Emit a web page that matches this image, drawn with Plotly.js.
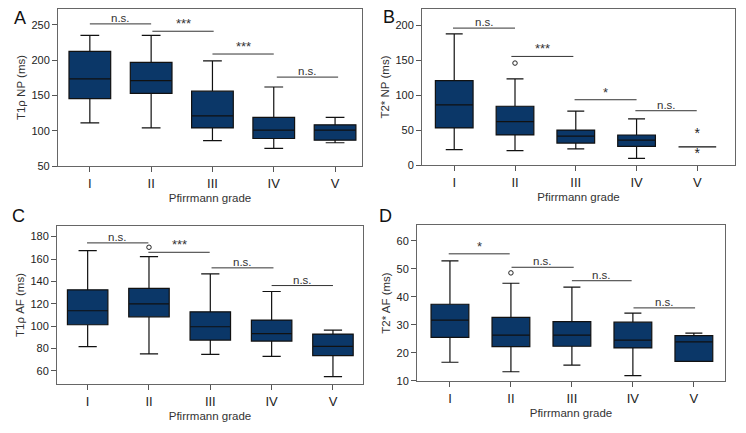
<!DOCTYPE html>
<html>
<head>
<meta charset="utf-8">
<script src="https://cdn.plot.ly/plotly-3.0.1.min.js"></script>
<style>
  html, body { margin: 0; padding: 0; background: #fff; }
  #chart { width: 746px; height: 433px; }
  #chart svg text { font-stretch: condensed; }
</style>
</head>
<body>
<div id="chart"></div>
<script>
"use strict";

/******************************** Data *********************************/

var grades = ['I', 'II', 'III', 'IV', 'V'];

// A: T1rho NP
var aLow = [111, 104, 86, 75, 83];
var aQ1 = [145.5, 153, 104, 89, 86.6];
var aMed = [173.5, 171, 121, 101, 101];
var aQ3 = [212.5, 197, 156, 119, 108.4];
var aHigh = [235, 235, 199, 162, 119];

// B: T2* NP
var bLow = [22, 20.5, 23, 9.5, 26];
var bQ1 = [53, 43, 31.4, 26.7, 26];
var bMed = [86, 62, 41.4, 35.7, 26];
var bQ3 = [120.5, 84, 50, 42.9, 26];
var bHigh = [187.6, 123, 77, 66, 26];
var bOutX = ['II'];
var bOutY = [145.7];
var bStarX = ['V', 'V'];
var bStarY = [43.3, 15.7];

// C: T1rho AF
var cLow = [81.7, 75.2, 74.9, 73, 55];
var cQ1 = [101.3, 108.4, 87.6, 86.7, 73.7];
var cMed = [113.8, 120, 99.5, 93.3, 82];
var cQ3 = [132.5, 133.7, 112.8, 105.5, 93];
var cHigh = [167.5, 162.2, 146.7, 131, 96.5];
var cOutX = ['II'];
var cOutY = [170.5];

// D: T2* AF
var dLow = [16.7, 13.3, 15.7, 11.9, 17];
var dQ1 = [25.6, 22.3, 22.4, 21.8, 17];
var dMed = [31.7, 26.4, 26.4, 24.6, 24];
var dQ3 = [37.4, 32.7, 31.2, 31, 26.2];
var dHigh = [52.9, 44.9, 43.5, 34.2, 27.1];
var dOutX = ['II'];
var dOutY = [48.6];

// significance brackets: [from, to, level, label]
var aSig = [[0, 1, 251.4, 'n.s.'], [1.02, 2.02, 241, '***'], [2, 3, 208.7, '***'], [3.05, 4.05, 176, 'n.s.']];
var bSig = [[-0.02, 1, 195.7, 'n.s.'], [0.94, 1.96, 155.2, '***'], [1.98, 3, 93.3, '*'], [2.98, 3.99, 77.6, 'n.s.']];
var cSig = [[-0.01, 0.99, 174.4, 'n.s.'], [0.99, 1.99, 166, '***'], [2.02, 3.03, 152.1, 'n.s.'], [3, 4, 136.3, 'n.s.']];
var dSig = [[-0.02, 0.98, 55.4, '*'], [1.01, 2.03, 50.6, 'n.s.'], [2, 2.98, 45.8, 'n.s.'], [3.01, 4.02, 36.1, 'n.s.']];

/******************************** Style *********************************/

var FONT = 'Liberation Sans, Arial, sans-serif';
var BOXFILL = '#0b3768';

function boxTrace(low, q1, med, q3, high, ax, w) {
  return {
    type: 'box',
    x: grades,
    lowerfence: low, q1: q1, median: med, q3: q3, upperfence: high,
    fillcolor: BOXFILL,
    line: { color: '#111', width: 1.2 },
    whiskerwidth: 0.45,
    width: w,
    boxpoints: false,
    hoverinfo: 'skip',
    showlegend: false,
    xaxis: 'x' + ax, yaxis: 'y' + ax
  };
}

function outTrace(xs, ys, ax) {
  return {
    type: 'scatter', mode: 'markers', x: xs, y: ys,
    marker: { symbol: 'circle-open', size: 4.5, color: '#222', line: { width: 1 } },
    showlegend: false, hoverinfo: 'skip',
    xaxis: 'x' + ax, yaxis: 'y' + ax
  };
}

var data = [
  boxTrace(aLow, aQ1, aMed, aQ3, aHigh, '', 0.68),
  boxTrace(bLow, bQ1, bMed, bQ3, bHigh, '2', 0.62),
  outTrace(bOutX, bOutY, '2'),
  {
    type: 'scatter', mode: 'text', x: bStarX, y: bStarY, text: ['*', '*'],
    textfont: { family: FONT, size: 14, color: '#222' },
    showlegend: false, hoverinfo: 'skip', xaxis: 'x2', yaxis: 'y2'
  },
  boxTrace(cLow, cQ1, cMed, cQ3, cHigh, '3', 0.66),
  outTrace(cOutX, cOutY, '3'),
  boxTrace(dLow, dQ1, dMed, dQ3, dHigh, '4', 0.62),
  outTrace(dOutX, dOutY, '4')
];

function xAxis(dom, rng, anchor) {
  return {
    domain: dom, range: rng, anchor: anchor,
    type: 'category', categoryorder: 'array', categoryarray: grades,
    showline: true, mirror: true, linecolor: '#666', linewidth: 1,
    ticks: 'outside', ticklen: 5, tickcolor: '#555', showgrid: false, zeroline: false,
    tickfont: { family: FONT, size: 13, color: '#222' },
    title: { text: 'Pfirrmann grade', font: { family: FONT, size: 11.5, color: '#333' }, standoff: 4 }
  };
}

function yAxis(dom, rng, dt, anchor, txt) {
  return {
    domain: dom, range: rng, dtick: dt, anchor: anchor,
    showline: true, mirror: true, linecolor: '#666', linewidth: 1,
    ticks: 'outside', ticklen: 5, tickcolor: '#555', showgrid: false, zeroline: false,
    tickfont: { family: FONT, size: 11, color: '#222' },
    title: { text: txt, font: { family: FONT, size: 11.5, color: '#333' }, standoff: 3 }
  };
}

var shapes = [];
var annotations = [];

function addSig(list, ax) {
  list.forEach(function (s) {
    shapes.push({
      type: 'line', xref: 'x' + ax, yref: 'y' + ax,
      x0: s[0], x1: s[1], y0: s[2], y1: s[2],
      line: { color: '#333', width: 1 }
    });
    annotations.push({
      xref: 'x' + ax, yref: 'y' + ax, x: (s[0] + s[1]) / 2, y: s[2],
      text: s[3], showarrow: false, yanchor: 'bottom', yshift: -2,
      font: { family: FONT, size: s[3] === 'n.s.' ? 11.5 : 13, color: '#333' }
    });
  });
}
addSig(aSig, '');
addSig(bSig, '2');
addSig(cSig, '3');
addSig(dSig, '4');

// panel letters (pixel centres)
[['A', 20, 18], ['B', 389, 17], ['C', 18, 216], ['D', 385, 216]].forEach(function (p) {
  annotations.push({
    xref: 'paper', yref: 'paper', x: p[1] / 746, y: 1 - p[2] / 433, text: p[0], showarrow: false,
    xanchor: 'center', yanchor: 'middle', font: { family: FONT, size: 18, color: '#111' }
  });
});

var layout = {
  width: 746, height: 433,
  margin: { l: 0, r: 0, t: 0, b: 0 },
  paper_bgcolor: '#fff', plot_bgcolor: '#fff',
  font: { family: FONT },
  showlegend: false,
  xaxis: xAxis([0.0777, 0.4853], [-0.52, 4.44], 'y'),
  yaxis: yAxis([0.6166, 0.9792], [50, 272.5], 50, 'x', 'T1ρ NP (ms)'),
  xaxis2: xAxis([0.5657, 0.9853], [-0.53, 4.62], 'y2'),
  yaxis2: yAxis([0.6189, 0.9792], [0, 223], 50, 'x2', 'T2* NP (ms)'),
  xaxis3: xAxis([0.0764, 0.4866], [-0.5, 4.49], 'y3'),
  yaxis3: yAxis([0.1132, 0.4781], [48.4, 189.5], 20, 'x3', 'T1ρ AF (ms)'),
  xaxis4: xAxis([0.559, 0.9718], [-0.54, 4.51], 'y4'),
  yaxis4: yAxis([0.1201, 0.4804], [10, 65.7], 10, 'x4', 'T2* AF (ms)'),
  shapes: shapes,
  annotations: annotations
};

Plotly.newPlot('chart', data, layout, { displayModeBar: false, staticPlot: true });
</script>
</body>
</html>
